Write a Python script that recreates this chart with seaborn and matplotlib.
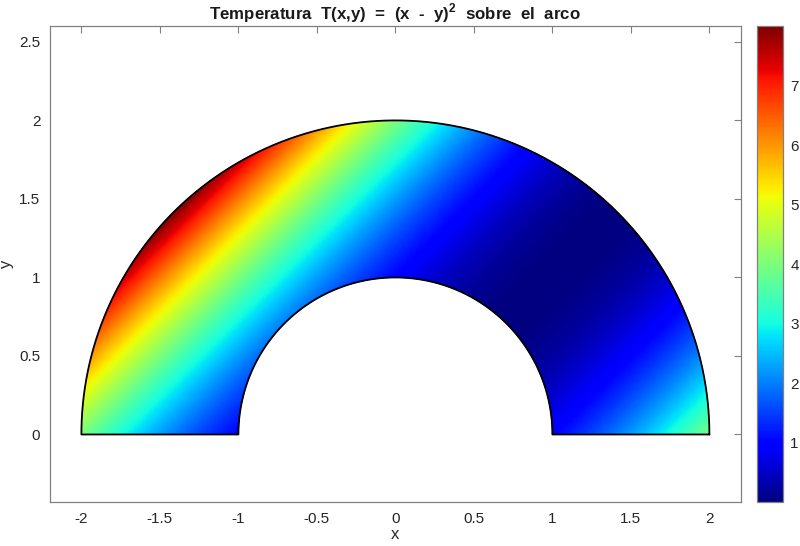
import numpy as np
import matplotlib.pyplot as plt
import seaborn as sns
from matplotlib.ticker import FuncFormatter
plt.switch_backend('agg')

# arco: semicorona 1 <= r <= 2, y >= 0
r_inner = 1.0
r_outer = 2.0
theta_start = 0.0
theta_end = np.pi
n_r = 60
n_theta = 360

x_ticks = [-2, -1.5, -1, -0.5, 0, 0.5, 1, 1.5, 2]
y_ticks = [0, 0.5, 1, 1.5, 2, 2.5]
cbar_ticks = [1, 2, 3, 4, 5, 6, 7]
t_limits = (0, 8)

sns.set_style("white")
plt.rcParams['font.family'] = ['Liberation Sans', 'DejaVu Sans']
plt.rcParams['axes.unicode_minus'] = False
plt.rcParams['mathtext.fontset'] = 'custom'
plt.rcParams['mathtext.rm'] = 'Liberation Sans'
plt.rcParams['mathtext.bf'] = 'Liberation Sans:bold'

r = np.linspace(r_inner, r_outer, n_r)
th = np.linspace(theta_start, theta_end, n_theta)
R, TH = np.meshgrid(r, th)
X = R * np.cos(TH)
Y = R * np.sin(TH)
T = (X - Y) ** 2

fig = plt.figure(figsize=(8, 5.46), dpi=100)
ax = fig.add_axes([0.0625, 0.0806, 0.8635, 0.8714])
cax = fig.add_axes([0.946, 0.0806, 0.033, 0.8714])

cmap = plt.get_cmap('jet')  # seaborn no acepta 'jet'
mesh = ax.pcolormesh(X, Y, T, cmap=cmap, shading='gouraud',
                     vmin=t_limits[0], vmax=t_limits[1])

# contorno del arco
bx = np.concatenate([r_outer * np.cos(th), [-r_inner],
                     r_inner * np.cos(th[::-1]), [r_outer]])
by = np.concatenate([r_outer * np.sin(th), [0],
                     r_inner * np.sin(th[::-1]), [0]])
ax.plot(bx, by, color='black', linewidth=1.3)

ax.set_xlim(-2.2, 2.2)
ax.set_ylim(-0.43, 2.6)
ax.set_aspect('auto')
ax.set_xticks(x_ticks)
ax.set_yticks(y_ticks)
fmt = FuncFormatter(lambda v, p: '%g' % v)
ax.xaxis.set_major_formatter(fmt)
ax.yaxis.set_major_formatter(fmt)
ax.tick_params(direction='in', top=True, right=True, length=5, width=0.8,
               color='#808080', labelsize=11, labelcolor='#262626', pad=7)
for s in ax.spines.values():
    s.set_color('#808080')
    s.set_linewidth(0.9)

ax.set_xlabel('x', fontsize=12, color='#262626', labelpad=1)
ax.set_ylabel('y', fontsize=12, color='#262626', labelpad=4)
ax.set_title(r'Temperatura  T(x,y)  =  (x  -  y)$^{\mathbf{2}}$  sobre  el  arco',
             fontsize=12.2, fontweight='bold', color='#1a1a1a', pad=5)

cb = fig.colorbar(mesh, cax=cax)
cb.set_ticks(cbar_ticks)
cb.ax.tick_params(direction='in', length=4, width=0.8, color='#404040',
                  labelsize=11, labelcolor='#262626', pad=5)
cb.outline.set_edgecolor('#808080')
cb.outline.set_linewidth(0.9)

fig.savefig('out.png', dpi=100)
